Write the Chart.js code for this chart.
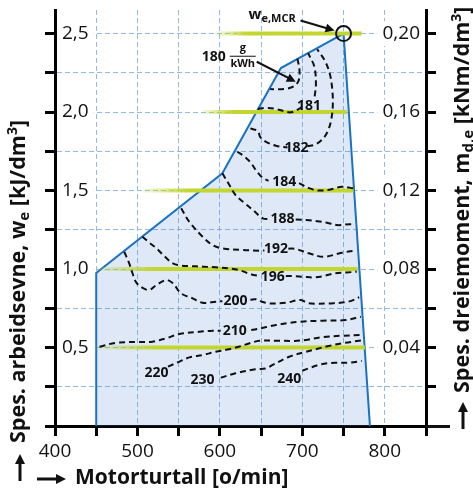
<!DOCTYPE html>
<html>
<head>
<meta charset="utf-8">
<script src="https://cdn.jsdelivr.net/npm/chart.js@4/dist/chart.umd.min.js"></script>
<style>
  html, body { margin: 0; padding: 0; background: #fff; }
</style>
</head>
<body>
<canvas id="chart" width="473" height="491"></canvas>
<script>
// Akser: motorturtall (o/min) og spes. arbeidsevne (kJ/dm3)
const xMin = 400, xMax = 850;
const xTicks = [400, 450, 500, 550, 600, 650, 700, 750, 800, 850];
const xLabels = [400, 500, 600, 700, 800];
const yMax = 2.65;
const yTicks = [0, 0.25, 0.5, 0.75, 1, 1.25, 1.5, 1.75, 2, 2.25, 2.5];
const yLabels = [0.5, 1, 1.5, 2, 2.5];
// høyre akse: spes. dreiemoment (kNm/dm3)
const torqueFactor = 0.08;
const y2Ticks = [0, 0.02, 0.04, 0.06, 0.08, 0.10, 0.12, 0.14, 0.16, 0.18, 0.20];
const y2Labels = [0.04, 0.08, 0.12, 0.16, 0.20];

// driftsområde
const envelopeRpm = [450, 450, 603, 674, 750, 782];
const envelopeWe = [0, 0.975, 1.61, 2.28, 2.5, 0];

// målelinjer (grønne)
const bandWe = [0.5, 1.0, 1.5, 2.0, 2.5];
const bandFrom = [450, 450, 506, 578, 595];
const bandTo = [776, 767, 762, 754, 772];

// spesifikt forbruk, g/kWh  ([rpm, w_e], null = plass til tallet)
const iso180 = [[694, 2.34], [696.5, 2.27], [695.5, 2.2], [690, 2.165], [680, 2.148], [668, 2.145], [661, 2.146]];
const iso181 = [[646, 2.02], [656, 2.026], [666, 2.022], [678, 2.005], [686, 1.998], [693, 2.012], [699, 2.03], [708, null],
  [715, 2.1], [716.5, 2.18], [714.5, 2.29], [707, 2.375]];
const iso182 = [[637, 1.896], [646, 1.878], [649, 1.84], [656, 1.81], [668, 1.785], [682, 1.774], [694, null],
  [706, 1.782], [716, 1.794], [725, 1.83], [731, 1.88], [735, 1.95], [737, 2.05], [736, 2.16], [733, 2.25], [727, 2.33], [718, 2.40]];
const iso184 = [[621, 1.747], [629, 1.72], [637, 1.68], [645, 1.62], [652, 1.58], [659, 1.562], [678, null],
  [696, 1.547], [708, 1.515], [720, 1.5], [733, 1.505], [748, 1.524], [762, 1.514]];
const iso188 = [[603, 1.61], [611, 1.54], [619, 1.471], [630, 1.42], [640, 1.376], [652, 1.323], [660, 1.318], [676, null],
  [692, 1.315], [705, 1.312], [718, 1.305], [730, 1.295], [742, 1.28], [752, 1.283], [763, 1.287]];
const iso192 = [[553, 1.387], [563, 1.3], [579, 1.206], [592, 1.15], [603, 1.132], [627, 1.121], [648, 1.117], [654, 1.118], [668, null],
  [683, 1.13], [692, 1.128], [708, 1.1], [726, 1.078], [748, 1.104], [764, 1.117]];
const iso196 = [[506, 1.206], [514, 1.17], [523, 1.132], [533, 1.08], [543, 1.036], [553, 1.022], [563, 1.019], [580, 1.015], [595, 1.011],
  [612, 1.004], [623, 0.994], [633, 0.975], [641, 0.962], [648, 0.956], [664, null],
  [680, 0.955], [690, 0.955], [702, 0.95], [716, 0.947], [728, 0.958], [740, 0.973], [754, 0.978], [766, 0.983]];
const iso200 = [[484, 1.11], [490, 1.036], [494, 0.973], [498, 0.919], [504, 0.887], [514, 0.866], [523, 0.898], [535, 0.93], [543, 0.909],
  [553, 0.845], [567, 0.813], [579, 0.785], [595, 0.792], [603, 0.795], [619, null],
  [637, 0.805], [644, 0.807], [652, 0.79], [660, 0.781], [680, 0.785], [698, 0.803], [706, 0.784], [716, 0.779], [732, 0.781], [756, 0.792], [769, 0.82]];
const iso210 = [[454, 0.505], [474, 0.53], [500, 0.535], [518, 0.537], [535, 0.559], [551, 0.586], [575, 0.6], [591, 0.607], [601, 0.607], [618, null],
  [638, 0.612], [644, 0.616], [656, 0.63], [668, 0.643], [682, 0.655], [696, 0.664], [724, 0.671], [752, 0.675], [771, 0.696]];
const iso220 = [[537, 0.378], [551, 0.41], [563, 0.437], [579, 0.452], [595, 0.473], [611, 0.489], [623, 0.505], [636, 0.527], [648, 0.543],
  [672, 0.543], [690, 0.542], [704, 0.548], [724, 0.566], [748, 0.575], [772, 0.58]];
const iso230 = [[601, 0.308], [619, 0.336], [643, 0.361], [656, 0.367], [664, 0.389], [684, 0.441], [704, 0.472], [716, 0.489], [732, 0.51],
  [752, 0.53], [772, 0.545]];
const iso240 = [[700, 0.352], [710, 0.372], [720, 0.389], [730, 0.399], [740, 0.403], [756, 0.403], [772, 0.414]];
const isoLines = [iso180, iso181, iso182, iso184, iso188, iso192, iso196, iso200, iso210, iso220, iso230, iso240];

// tall på kurvene
const isoLabels = ['181', '182', '184', '188', '192', '196', '200', '210', '220', '230', '240'];
const isoLabelRpm = [708, 693, 678, 676, 668, 664, 619, 618, 523, 579, 684];
const isoLabelWe = [2.04, 1.769, 1.556, 1.317, 1.125, 0.951, 0.798, 0.605, 0.34, 0.293, 0.297];

// MCR-punkt og pil til 180-kurven
const mcrRpm = 750, mcrWe = 2.5;
const minRpm = 692, minWe = 2.193;

const gridBlue = '#8fbbe6';
const bandGreen = '195,214,48';
const clear = 'rgba(0,0,0,0)';
const FONT = '"Open Sans", "DejaVu Sans", sans-serif';

const isIn = (v, list) => list.some(l => Math.abs(l - v) < 1e-6);

// fast plass rundt plottet, uten ekstra luft for tallene
function fixBox(size, vertical) {
  return s => {
    if (vertical) s.width = size; else s.height = size;
    s.paddingLeft = s.paddingRight = s.paddingTop = s.paddingBottom = 0;
  };
}

function bandStroke(i) {
  return ctx => {
    const chart = ctx.chart;
    if (!chart.chartArea) return `rgb(${bandGreen})`;
    const sx = chart.scales.x;
    const x0 = sx.getPixelForValue(bandFrom[i]);
    const x1 = sx.getPixelForValue(bandTo[i]);
    const g = chart.ctx.createLinearGradient(x0, 0, x1, 0);
    g.addColorStop(0, `rgba(${bandGreen},0.1)`);
    g.addColorStop(0.22, `rgba(${bandGreen},1)`);
    g.addColorStop(1, `rgba(${bandGreen},1)`);
    return g;
  };
}

function arrow(ctx, x0, y0, x1, y1, head, lw) {
  const a = Math.atan2(y1 - y0, x1 - x0);
  ctx.lineWidth = lw;
  ctx.beginPath();
  ctx.moveTo(x0, y0);
  ctx.lineTo(x1 - Math.cos(a) * head * 0.8, y1 - Math.sin(a) * head * 0.8);
  ctx.stroke();
  ctx.beginPath();
  ctx.moveTo(x1, y1);
  ctx.lineTo(x1 - Math.cos(a) * head + Math.sin(a) * head * 0.5, y1 - Math.sin(a) * head - Math.cos(a) * head * 0.5);
  ctx.lineTo(x1 - Math.cos(a) * head - Math.sin(a) * head * 0.5, y1 - Math.sin(a) * head + Math.cos(a) * head * 0.5);
  ctx.closePath();
  ctx.fill();
}

// tekst med senket/hevet skrift: [tekst, størrelse, dy]
function runs(ctx, parts, x, y) {
  let cx = x;
  parts.forEach(([t, size, dy]) => {
    ctx.font = `bold ${size}px ${FONT}`;
    ctx.fillText(t, cx, y + dy);
    cx += ctx.measureText(t).width;
  });
  return cx;
}

const annotations = {
  id: 'annotations',
  afterDatasetsDraw(chart) {
    const {ctx, scales: {x, y}} = chart;
    ctx.save();
    ctx.fillStyle = '#111';
    ctx.strokeStyle = '#111';
    ctx.textAlign = 'center';
    ctx.textBaseline = 'middle';
    ctx.font = `bold 14px ${FONT}`;
    isoLabels.forEach((t, i) => {
      ctx.fillText(t, x.getPixelForValue(isoLabelRpm[i]), y.getPixelForValue(isoLabelWe[i]));
    });

    // 180 g/kWh med pil
    const tx = x.getPixelForValue(minRpm), ty = y.getPixelForValue(minWe);
    ctx.fillText('180', tx - 82, ty - 25);
    ctx.font = `bold 11px ${FONT}`;
    ctx.textBaseline = 'alphabetic';
    ctx.fillText('g', tx - 53, ty - 31);
    ctx.fillText('kWh', tx - 53, ty - 15);
    ctx.lineWidth = 1;
    ctx.beginPath();
    ctx.moveTo(tx - 66, ty - 25.5);
    ctx.lineTo(tx - 40, ty - 25.5);
    ctx.stroke();
    arrow(ctx, tx - 39, ty - 20, tx, ty, 9, 2);

    // w_e,MCR
    const cx = x.getPixelForValue(mcrRpm), cy = y.getPixelForValue(mcrWe);
    ctx.lineWidth = 2;
    ctx.beginPath();
    ctx.arc(cx, cy, 7.5, 0, Math.PI * 2);
    ctx.stroke();
    ctx.textAlign = 'left';
    runs(ctx, [['w', 15, 0], ['e,MCR', 11, 3.5]], cx - 95, cy - 15);
    arrow(ctx, cx - 43, cy - 13, cx - 9, cy - 3, 9, 2);
    ctx.restore();
  },
  afterDraw(chart) {
    const {ctx, chartArea} = chart;
    ctx.save();
    ctx.fillStyle = '#111';
    ctx.strokeStyle = '#111';

    // x-aksen fortsetter litt forbi høyre akse
    ctx.lineWidth = 3;
    ctx.beginPath();
    ctx.moveTo(chartArea.right, chartArea.bottom + 0.5);
    ctx.lineTo(chartArea.right + 24, chartArea.bottom + 0.5);
    ctx.stroke();

    ctx.textAlign = 'left';
    ctx.textBaseline = 'alphabetic';

    // venstre aksetittel
    ctx.save();
    ctx.translate(25, 443);
    ctx.rotate(-Math.PI / 2);
    runs(ctx, [['Spes. arbeidsevne, w', 21.5, 0], ['e', 15, 4], [' [kJ/dm', 21.5, 0], ['3', 14, -8], [']', 21.5, 0]], 0, 0);
    ctx.restore();

    // høyre aksetittel
    ctx.save();
    ctx.translate(469, 393);
    ctx.rotate(-Math.PI / 2);
    runs(ctx, [['Spes. dreiemoment, m', 21.5, 0], ['d,e', 15, 4], [' [kNm/dm', 21.5, 0], ['3', 14, -8], [']', 21.5, 0]], 0, 0);
    ctx.restore();

    // x-aksetittel
    ctx.font = `bold 21px ${FONT}`;
    ctx.fillText('Motorturtall [o/min]', 75, 484);

    arrow(ctx, 20, 481, 20, 454, 10, 3);
    arrow(ctx, 463, 429, 463, 402, 10, 3);
    arrow(ctx, 37, 479, 66, 479, 10, 3);
    ctx.restore();
  }
};

const datasets = [];
isoLines.forEach(pts => {
  datasets.push({
    data: pts.map(([r, w]) => ({x: r, y: w})),
    showLine: true,
    borderColor: '#111',
    borderWidth: 2,
    borderDash: [6, 4],
    tension: 0.35,
    pointRadius: 0,
    fill: false,
    order: 0
  });
});
bandWe.forEach((w, i) => {
  datasets.push({
    data: [{x: bandFrom[i], y: w}, {x: bandTo[i], y: w}],
    showLine: true,
    borderColor: bandStroke(i),
    borderWidth: 4,
    borderCapStyle: 'butt',
    pointRadius: 0,
    order: 1
  });
});
datasets.push({
  data: envelopeRpm.map((r, i) => ({x: r, y: envelopeWe[i]})),
  showLine: true,
  borderColor: '#1a72c4',
  borderWidth: 2,
  backgroundColor: 'rgba(80,135,210,0.19)',
  fill: 'origin',
  tension: 0,
  pointRadius: 0,
  order: 2
});

const tickFont = {family: FONT, size: 19};

new Chart(document.getElementById('chart'), {
  type: 'scatter',
  data: {datasets},
  plugins: [annotations],
  options: {
    responsive: false,
    animation: false,
    layout: {autoPadding: false, padding: {left: 45, right: 37, top: 10, bottom: 0}},
    plugins: {legend: {display: false}, tooltip: {enabled: false}},
    scales: {
      x: {
        type: 'linear',
        position: 'bottom',
        min: xMin,
        max: xMax,
        afterBuildTicks: s => { s.ticks = xTicks.map(v => ({value: v})); },
        afterFit: fixBox(65, false),
        ticks: {
          autoSkip: false,
          maxRotation: 0,
          padding: 4,
          color: '#111',
          font: tickFont,
          callback: v => isIn(v, xLabels) ? String(v) : ''
        },
        grid: {
          color: c => (c.tick && (c.tick.value === xMin || c.tick.value === xMax)) ? clear : gridBlue,
          lineWidth: 1,
          tickColor: '#000',
          tickLength: 10,
          tickWidth: 3
        },
        border: {color: '#000', width: 3, dash: [5, 3]}
      },
      y: {
        type: 'linear',
        position: 'left',
        min: 0,
        max: yMax,
        afterBuildTicks: s => { s.ticks = yTicks.map(v => ({value: v})); },
        afterFit: fixBox(10, true),
        ticks: {
          mirror: true,
          crossAlign: 'near',
          padding: 7,
          color: '#111',
          font: tickFont,
          callback: v => isIn(v, yLabels) ? v.toFixed(1).replace('.', ',') : '',
          showLabelBackdrop: true,
          backdropColor: c => isIn(c.tick.value, yLabels) ? '#fff' : clear,
          backdropPadding: {left: 5, right: 5, top: 1, bottom: 1}
        },
        grid: {
          color: c => (c.tick && c.tick.value > 0) ? gridBlue : clear,
          lineWidth: 1,
          tickColor: '#000',
          tickLength: 10,
          tickWidth: 3
        },
        border: {color: '#000', width: 3, dash: [5, 3]}
      },
      y2: {
        type: 'linear',
        position: 'right',
        min: 0,
        max: yMax * torqueFactor,
        afterBuildTicks: s => { s.ticks = y2Ticks.map(v => ({value: v})); },
        afterFit: fixBox(10, true),
        ticks: {
          mirror: true,
          crossAlign: 'near',
          padding: -6,
          color: '#111',
          font: tickFont,
          callback: v => isIn(v, y2Labels) ? v.toFixed(2).replace('.', ',') : '',
          showLabelBackdrop: true,
          backdropColor: c => isIn(c.tick.value, y2Labels) ? '#fff' : clear,
          backdropPadding: {left: 5, right: 4, top: 1, bottom: 1}
        },
        grid: {
          drawOnChartArea: false,
          color: '#000',
          tickColor: '#000',
          tickLength: 10,
          tickWidth: 3
        },
        border: {color: '#000', width: 3}
      }
    }
  }
});
</script>
</body>
</html>
